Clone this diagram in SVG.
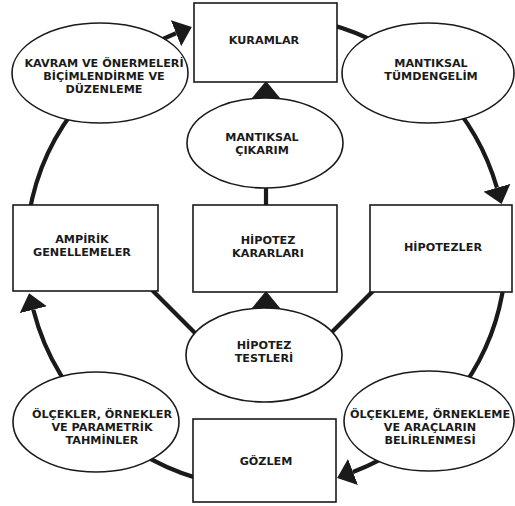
<svg xmlns="http://www.w3.org/2000/svg" width="515" height="506" viewBox="0 0 515 506">
<style>
.n{fill:#fff;stroke:#1a1a1a;stroke-width:1.6}
.t{font-family:"DejaVu Sans","Liberation Sans",sans-serif;font-weight:bold;font-size:11.2px;fill:#1a1a1a;text-anchor:middle}
.c{fill:none;stroke:#1a1a1a;stroke-width:4.2}
</style>
<defs>
<marker id="ah" markerUnits="userSpaceOnUse" viewBox="0 0 17 28" markerWidth="17" markerHeight="28" refX="0" refY="14" orient="auto">
<path d="M0,0 L17,14 L0,28 z" fill="#1a1a1a"/>
</marker>
</defs>
<rect width="515" height="506" fill="#fff"/>
<g id="connectors">
<path class="c" d="M144.8 48.3 A240 236 0 0 1 176.0 33.2" marker-end="url(#ah)"/>
<path class="c" d="M283.0 16.6 A240 236 0 0 1 395.7 53.4"/>
<path class="c" d="M441.6 91.1 A240 236 0 0 1 496.9 187.7" marker-end="url(#ah)"/>
<path class="c" d="M504.3 280.2 A240 236 0 0 1 464.1 385.2"/>
<path class="c" d="M405.6 444.0 A240 236 0 0 1 353.0 472.0" marker-end="url(#ah)"/>
<path class="c" d="M247.0 487.3 A240 236 0 0 1 124.8 442.8"/>
<path class="c" d="M106.1 428.0 A240 236 0 0 1 33.3 309.7" marker-end="url(#ah)"/>
<path class="c" d="M29.0 214.8 A240 236 0 0 1 83.6 98.6"/>
<path class="c" d="M266 110 L266 98" marker-end="url(#ah)"/>
<path class="c" d="M266 180 L266 210"/>
<path class="c" d="M266 320 L266 308" marker-end="url(#ah)"/>
<path class="c" d="M150 288 L200 338"/>
<path class="c" d="M376 288 L326 338"/>
</g>
<g id="kuramlar">
<rect class="n" x="194" y="3" width="143" height="79"/>
<text class="t" x="264" y="44">KURAMLAR</text>
</g>
<g id="kavram">
<ellipse class="n" cx="100" cy="73" rx="88" ry="50"/>
<text class="t" x="104" y="67">KAVRAM VE ÖNERMELERİ</text>
<text class="t" x="104" y="80">BİÇİMLENDİRME VE</text>
<text class="t" x="104" y="93">DÜZENLEME</text>
</g>
<g id="tumdengelim">
<ellipse class="n" cx="428" cy="73" rx="86" ry="50"/>
<text class="t" x="431" y="67">MANTIKSAL</text>
<text class="t" x="431" y="80">TÜMDENGELİM</text>
</g>
<g id="cikarim">
<ellipse class="n" cx="265" cy="143" rx="78" ry="45"/>
<text class="t" x="262" y="141">MANTIKSAL</text>
<text class="t" x="262" y="154">ÇIKARIM</text>
</g>
<g id="ampirik">
<rect class="n" x="13" y="205" width="145" height="86"/>
<text class="t" x="82" y="243">AMPİRİK</text>
<text class="t" x="82" y="256">GENELLEMELER</text>
</g>
<g id="kararlari">
<rect class="n" x="193" y="205" width="144" height="87"/>
<text class="t" x="268" y="244">HİPOTEZ</text>
<text class="t" x="268" y="257">KARARLARI</text>
</g>
<g id="hipotezler">
<rect class="n" x="370" y="205" width="142" height="87"/>
<text class="t" x="443" y="251">HİPOTEZLER</text>
</g>
<g id="testleri">
<ellipse class="n" cx="264" cy="355" rx="78" ry="47"/>
<text class="t" x="264" y="349">HİPOTEZ</text>
<text class="t" x="264" y="362">TESTLERİ</text>
</g>
<g id="olcekler">
<ellipse class="n" cx="96" cy="422" rx="83" ry="50"/>
<text class="t" x="102" y="418">ÖLÇEKLER, ÖRNEKLER</text>
<text class="t" x="102" y="431">VE PARAMETRİK</text>
<text class="t" x="102" y="444">TAHMİNLER</text>
</g>
<g id="olcekleme">
<ellipse class="n" cx="429" cy="421" rx="85" ry="50"/>
<text class="t" x="430" y="418">ÖLÇEKLEME, ÖRNEKLEME</text>
<text class="t" x="430" y="431">VE ARAÇLARIN</text>
<text class="t" x="430" y="444">BELİRLENMESİ</text>
</g>
<g id="gozlem">
<rect class="n" x="193" y="419" width="143" height="83"/>
<text class="t" x="266" y="465">GÖZLEM</text>
</g>
</svg>
